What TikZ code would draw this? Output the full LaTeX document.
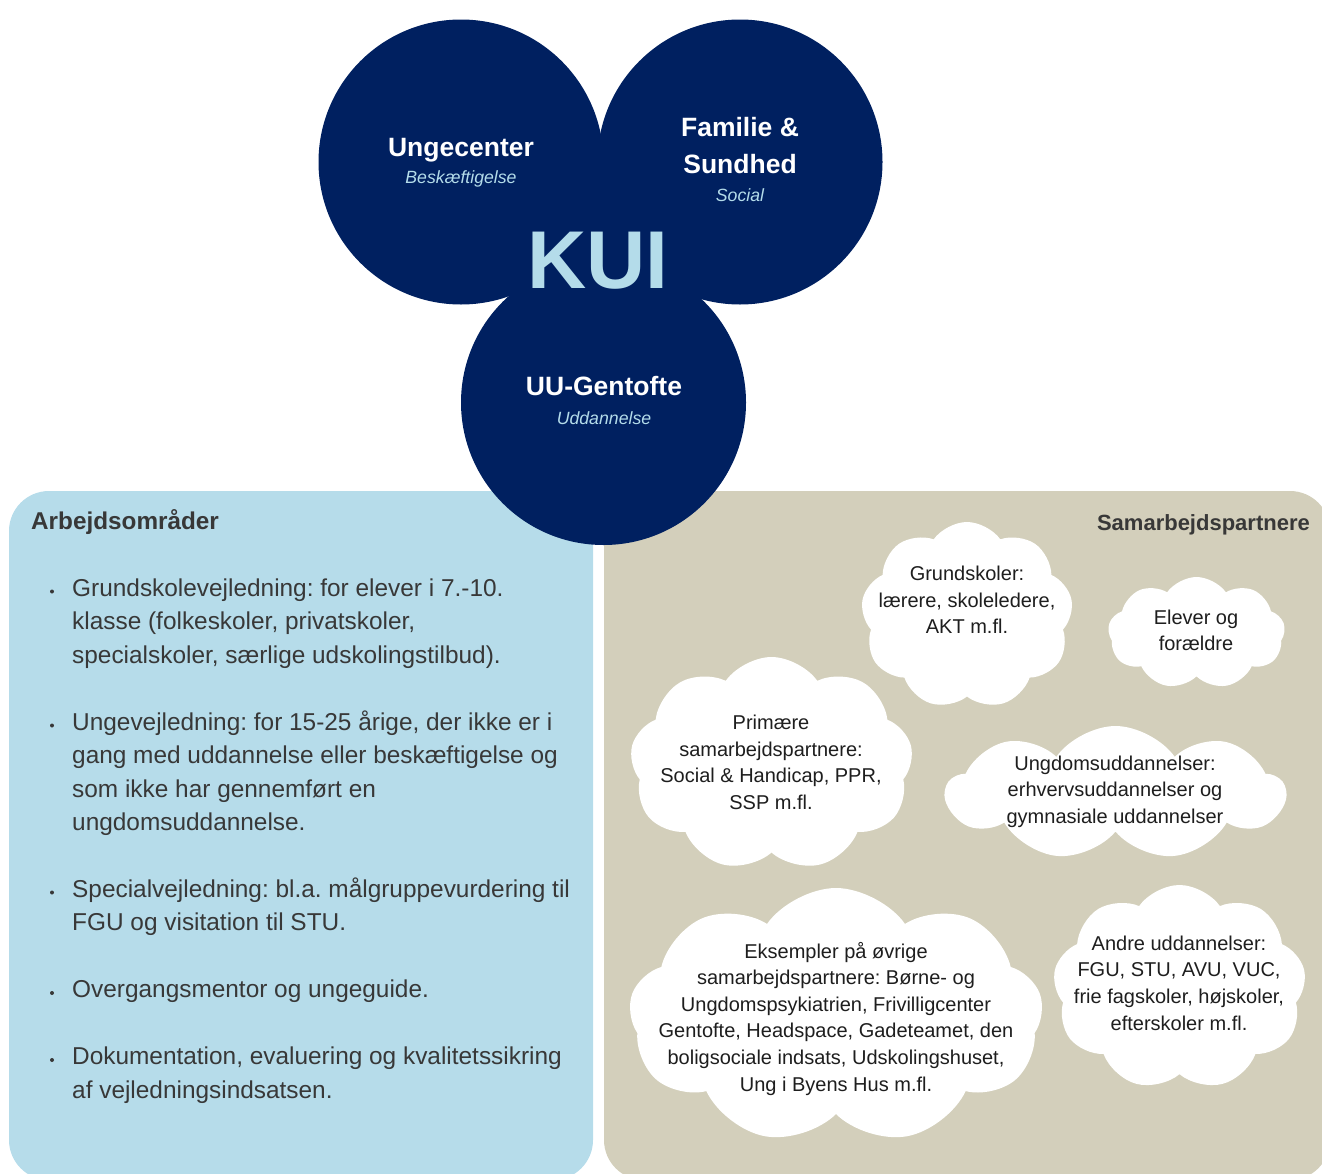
\documentclass[tikz,border=0pt]{standalone}
\usepackage{fontspec}
\setmainfont{Liberation Sans}
\usetikzlibrary{shapes.symbols}
\definecolor{navy}{HTML}{002060}
\definecolor{kuiblue}{HTML}{B4DCEA}
\definecolor{panelblue}{HTML}{B6DCEA}
\definecolor{panelsand}{HTML}{D3CFBB}
\definecolor{bodytext}{HTML}{383838}
\definecolor{cloudink}{HTML}{1E1E1E}
\frenchspacing
\begin{document}
\begin{tikzpicture}[x=1pt,y=-1pt,
  hub/.style={circle, fill=navy, minimum size=285pt, inner sep=0pt},
  hubtitle/.style={text=white, font=\fontsize{26.5}{36}\selectfont\bfseries, anchor=base, inner sep=0pt},
  hubsub/.style={text=kuiblue, font=\fontsize{17.7}{20}\selectfont\itshape, anchor=base, inner sep=0pt},
  bodyline/.style={text=bodytext, font=\fontsize{24.4}{33.5}\selectfont, anchor=base west, inner sep=0pt},
  bulletdot/.style={circle, fill=bodytext, inner sep=0pt, minimum size=4pt},
  puff/.style={cloud, cloud puffs=9, cloud puff arc=110, cloud ignores aspect, fill=white, inner sep=0pt},
  cloudtext/.style={align=center, font=\fontsize{20}{26.6}\selectfont, text=cloudink, inner sep=0pt},
  head/.style={text=bodytext, inner sep=0pt}
]
\useasboundingbox (0,0) rectangle (1322,1173);
\clip (0,0) rectangle (1322,1173);

% panels
\fill[panelblue, rounded corners=40pt] (9,491) rectangle (593,1180);
\fill[panelsand, rounded corners=40pt] (604,491) rectangle (1330,1180);

% hub circles
\node[hub] (ung) at (461,162) {};
\node[hub] (fam) at (740,162) {};
\node[hub] (uu) at (603.5,402.5) {};
\fill[navy] (ung.center) -- (fam.center) -- (uu.center) -- cycle;

\node[hubtitle] (ungT) at (461,156) {Ungecenter};
\node[hubsub] (ungS) at (461,183) {Beskæftigelse};
\node[hubtitle] (famT1) at (740,136.5) {Familie \&};
\node[hubtitle] (famT2) at (740,173.5) {Sundhed};
\node[hubsub] (famS) at (740,201.5) {Social};
\node[hubtitle] (uuT) at (604,395.5) {UU-Gentofte};
\node[hubsub] (uuS) at (604,424.5) {Uddannelse};
\node[text=kuiblue, font=\fontsize{82}{82}\selectfont\bfseries, anchor=base, inner sep=0pt] (kui) at (598,288.5) {KUI};

% left panel
\node[head, anchor=base west, font=\fontsize{24.3}{30}\selectfont\bfseries] (arbH) at (31,529.5) {Arbejdsområder};

\node[bulletdot] (b1) at (52,591.5) {};
\node[bodyline] (l1a) at (72,596) {Grundskolevejledning: for elever i 7.-10.};
\node[bodyline] (l1b) at (72,629.5) {klasse (folkeskoler, privatskoler,};
\node[bodyline] (l1c) at (72,663) {specialskoler, særlige udskolingstilbud).};

\node[bulletdot] (b2) at (52,725.5) {};
\node[bodyline] (l2a) at (72,730) {Ungevejledning: for 15-25 årige, der ikke er i};
\node[bodyline] (l2b) at (72,763.5) {gang med uddannelse eller beskæftigelse og};
\node[bodyline] (l2c) at (72,797) {som ikke har gennemført en};
\node[bodyline] (l2d) at (72,830.5) {ungdomsuddannelse.};

\node[bulletdot] (b3) at (52,892.5) {};
\node[bodyline] (l3a) at (72,897) {Specialvejledning: bl.a. målgruppevurdering til};
\node[bodyline] (l3b) at (72,930.5) {FGU og visitation til STU.};

\node[bulletdot] (b4) at (52,993) {};
\node[bodyline] (l4a) at (72,997.5) {Overgangsmentor og ungeguide.};

\node[bulletdot] (b5) at (52,1060) {};
\node[bodyline] (l5a) at (72,1064.5) {Dokumentation, evaluering og kvalitetssikring};
\node[bodyline] (l5b) at (72,1098) {af vejledningsindsatsen.};

% right panel
\node[head, anchor=base east, font=\fontsize{22}{28}\selectfont\bfseries] (samH) at (1310,530) {Samarbejdspartnere};

\node[puff, minimum width=212pt, minimum height=187pt] (c1) at (967,615.5) {};
\node[puff, minimum width=177pt, minimum height=112pt] (c2) at (1196.5,633) {};
\node[puff, minimum width=283pt, minimum height=214pt] (c3) at (771.5,764) {};
\node[puff, minimum width=339pt, minimum height=134pt] (c4) at (1115.5,793) {};
\node[puff, minimum width=414pt, minimum height=256pt] (c5) at (836,1016) {};
\node[puff, minimum width=253pt, minimum height=205pt] (c6) at (1179.5,987.5) {};

\node[cloudtext] (t1) at (967,600) {Grundskoler:\\lærere, skoleledere,\\AKT m.fl.};
\node[cloudtext] (t2) at (1196,630.5) {Elever og\\forældre};
\node[cloudtext] (t3) at (771,762.5) {Primære\\samarbejdspartnere:\\Social \& Handicap, PPR,\\SSP m.fl.};
\node[cloudtext] (t4) at (1115,791.5) {Ungdomsuddannelser:\\erhvervsuddannelser og\\gymnasiale uddannelser};
\node[cloudtext] (t5) at (836,1018.5) {Eksempler på øvrige\\samarbejdspartnere: Børne- og\\Ungdomspsykiatrien, Frivilligcenter\\Gentofte, Headspace, Gadeteamet, den\\boligsociale indsats, Udskolingshuset,\\Ung i Byens Hus m.fl.};
\node[cloudtext] (t6) at (1179,983) {Andre uddannelser:\\FGU, STU, AVU, VUC,\\frie fagskoler, højskoler,\\efterskoler m.fl.};
\end{tikzpicture}
\end{document}
